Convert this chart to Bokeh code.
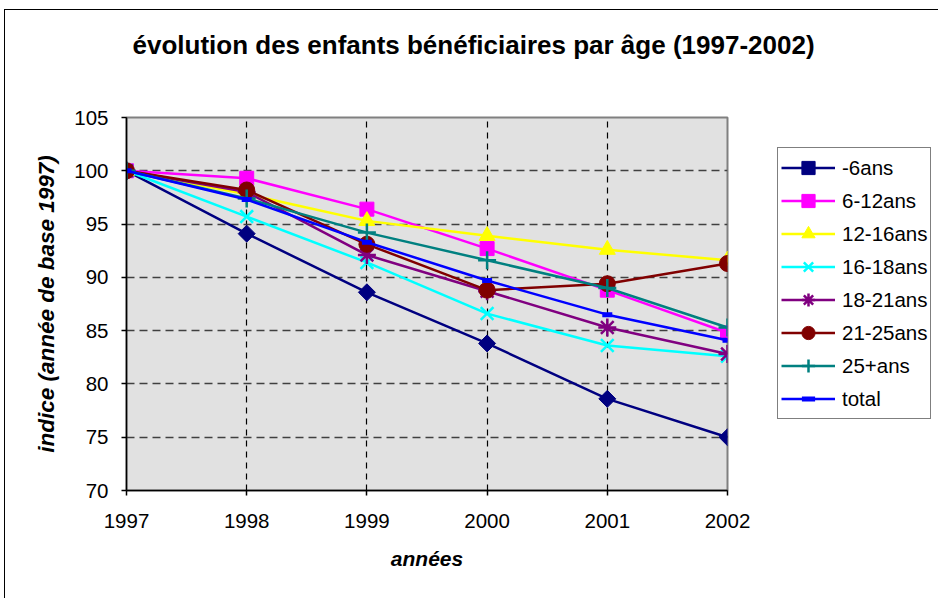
import math
from bokeh.plotting import figure
from bokeh.models import Legend, LegendItem, FixedTicker, Title
from bokeh.embed import file_html
from bokeh.resources import INLINE

years = [1997, 1998, 1999, 2000, 2001, 2002]
series_names = ["-6ans", "6-12ans", "12-16ans", "16-18ans", "18-21ans", "21-25ans", "25+ans", "total"]
v_moins6 = [100, 94.1, 88.6, 83.8, 78.6, 75.0]
v_6_12 = [100, 99.3, 96.4, 92.7, 88.8, 84.8]
v_12_16 = [100, 97.8, 95.3, 93.9, 92.6, 91.6]
v_16_18 = [100, 95.7, 91.4, 86.6, 83.6, 82.6]
v_18_21 = [100, 98.0, 92.1, 88.7, 85.3, 82.8]
v_21_25 = [100, 98.2, 93.1, 88.8, 89.4, 91.3]
v_25plus = [100, 97.4, 94.2, 91.6, 89.0, 85.3]
v_total = [100, 97.3, 93.3, 89.7, 86.5, 84.1]
y_ticks = [70, 75, 80, 85, 90, 95, 100, 105]

values = [v_moins6, v_6_12, v_12_16, v_16_18, v_18_21, v_21_25, v_25plus, v_total]
colors = ["#000080", "#FF00FF", "#FFFF00", "#00FFFF", "#800080", "#800000", "#008080", "#0000FF"]
markers = ["square", "square", "triangle", "x", "asterisk", "circle", "cross", "dash"]
angles = [math.pi / 4, 0, 0, 0, 0, 0, 0, 0]
sizes = [12, 14, 16, 18, 18, 16, 18, 10]

FONT = "Liberation Sans"

p = figure(frame_width=601, frame_height=373, output_backend="svg", toolbar_location=None,
           x_range=(1997, 2002), y_range=(70, 105),
           min_border_left=121, min_border_right=0, min_border_top=107, min_border_bottom=108)
p.margin = (10, 0, 0, 5)
p.styles = {"outline": "1.5px solid black"}

p.border_fill_color = "white"
p.background_fill_color = "#E1E1E1"
p.outline_line_color = "#808080"
p.outline_line_width = 2

spacer = Title(text=" ", text_font=FONT, text_font_size="10px", text_color="white", standoff=41)
p.add_layout(spacer, "above")
t = Title(text="évolution des enfants bénéficiaires par âge (1997-2002)", align="left",
          text_font=FONT, text_font_size="26px", text_font_style="bold", text_color="black",
          offset=6, standoff=8)
p.add_layout(t, "above")

p.xaxis.ticker = FixedTicker(ticks=years)
p.yaxis.ticker = FixedTicker(ticks=y_ticks)
for ax in (p.xaxis, p.yaxis):
    ax.axis_line_color = "black"
    ax.axis_line_width = 1.5
    ax.major_tick_line_color = "black"
    ax.major_tick_line_width = 1.5
    ax.major_tick_out = 5
    ax.major_tick_in = 0
    ax.minor_tick_line_color = None
    ax.major_label_text_font = FONT
    ax.major_label_text_font_size = "20.5px"
    ax.major_label_text_color = "black"
    ax.axis_label_text_font = FONT
    ax.axis_label_text_font_style = "bold italic"
    ax.axis_label_text_color = "black"
p.xaxis.axis_label_text_font_size = "21px"
p.yaxis.axis_label_text_font_size = "22.5px"
p.xaxis.axis_label = "années"
p.yaxis.axis_label = "indice (année de base 1997)"
p.xaxis.major_label_standoff = 18
p.xaxis.axis_label_standoff = 16
p.yaxis.major_label_standoff = 13
p.yaxis.axis_label_standoff = 12

p.xgrid.grid_line_color = "black"
p.xgrid.grid_line_dash = "6 5"
p.xgrid.grid_line_width = 1.2
p.ygrid.grid_line_color = "#404040"
p.ygrid.grid_line_dash = "8 5"
p.ygrid.grid_line_width = 1.5

items = []
for name, vals, c, m, a, s in zip(series_names, values, colors, markers, angles, sizes):
    r1 = p.line(years, vals, line_color=c, line_width=2.5)
    lw = 2.5 if m in ("x", "asterisk", "cross") else 1
    if m == "dash":
        r2 = p.scatter(years, vals, marker=m, size=s, line_color=c, line_width=5)
    else:
        r2 = p.scatter(years, vals, marker=m, size=s, angle=a, fill_color=c, line_color=c, line_width=lw)
    items.append(LegendItem(label=name, renderers=[r1, r2]))

legend = Legend(items=items, location=(50, 71), label_text_font=FONT, label_text_font_size="20.5px",
                label_text_color="black", border_line_color="black", border_line_width=1.2,
                background_fill_color="white", background_fill_alpha=1.0,
                glyph_width=54, glyph_height=33, label_height=33, spacing=0, padding=3, margin=0,
                label_standoff=7)
p.add_layout(legend, "right")

open("out.html", "w").write(file_html(p, INLINE))
